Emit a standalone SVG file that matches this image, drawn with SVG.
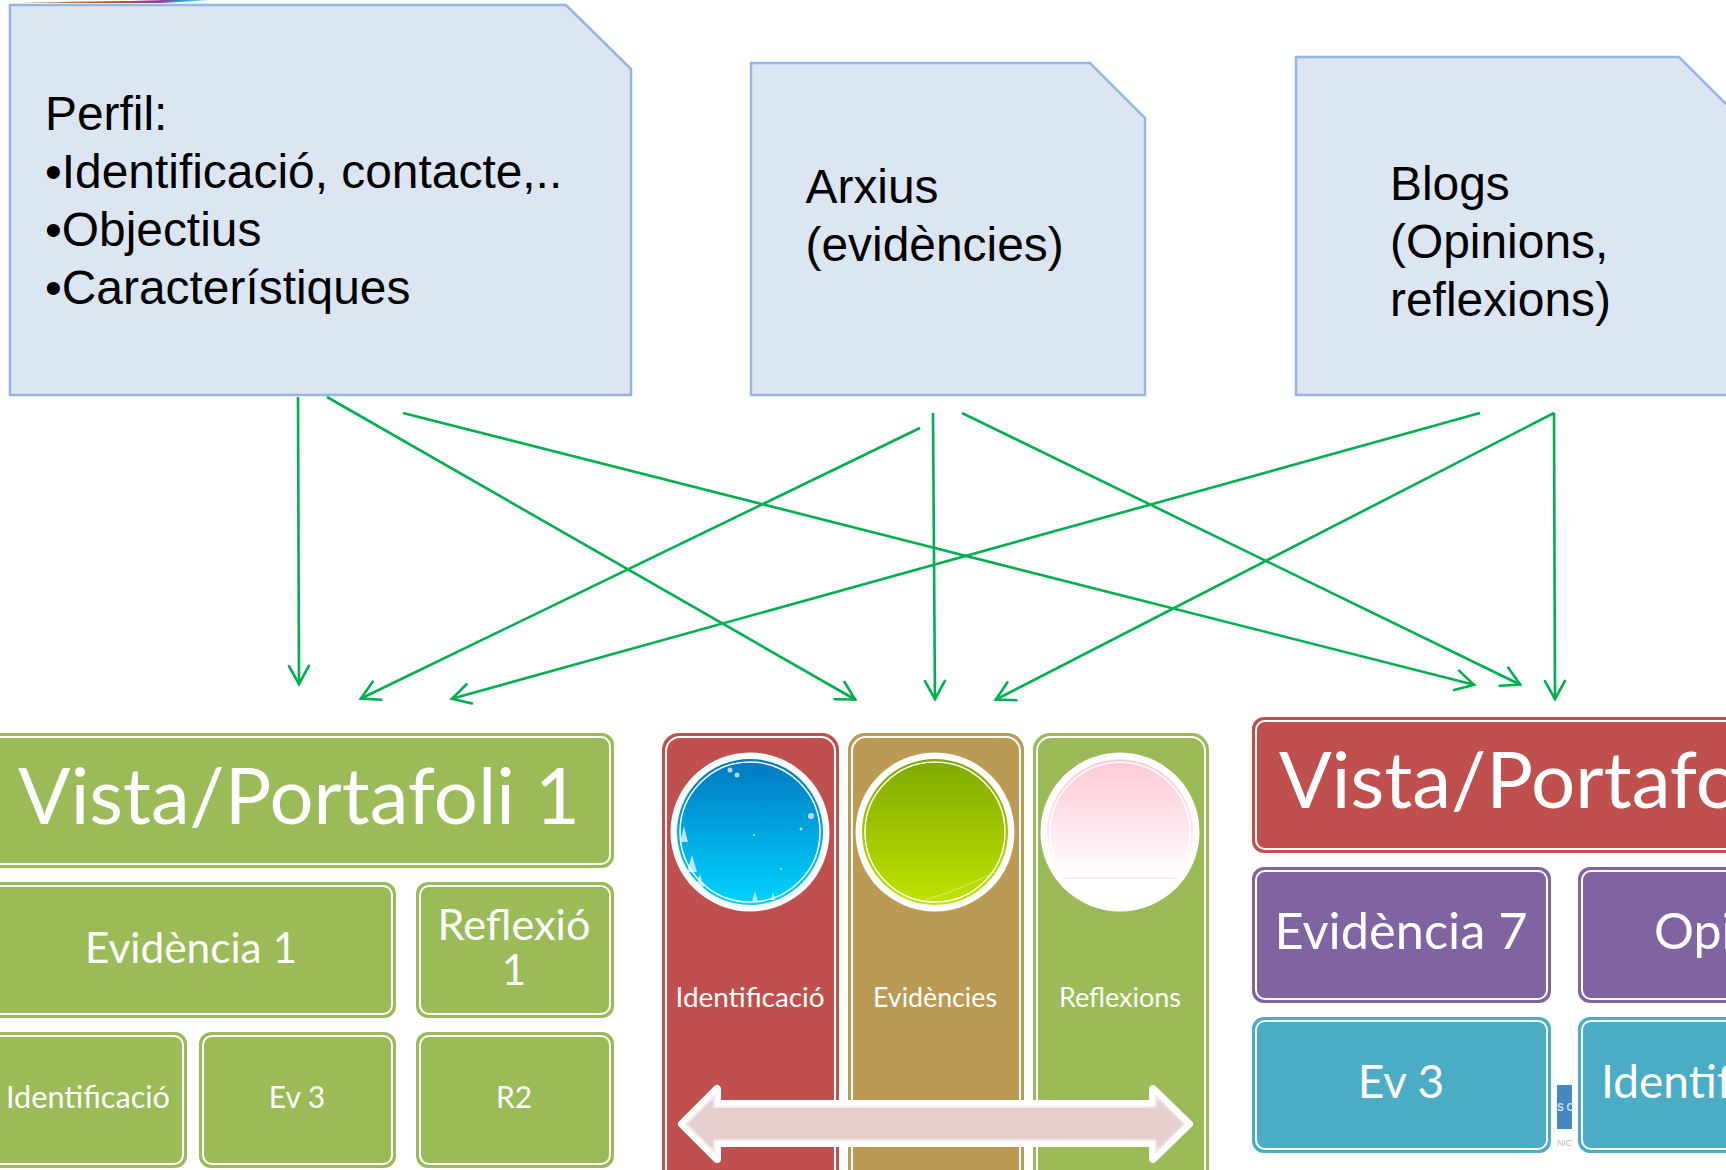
<svg xmlns="http://www.w3.org/2000/svg" width="1726" height="1170" viewBox="0 0 1726 1170">
<style>
.note{fill:#dce6f2;stroke:#95b5e3;stroke-width:2.5}
.nt{font-family:"Liberation Sans",Arial,sans-serif;font-size:47.9px;fill:#000}
.t{font-family:"Lato","Open Sans",sans-serif;fill:#fff;text-anchor:middle}
.l{text-anchor:start}
.in{fill:none;stroke:#fff;stroke-width:2}
.g{fill:#9bbb59;stroke:#9bbb59}.r{fill:#c0504d;stroke:#c0504d}.o{fill:#bb9a53;stroke:#bb9a53}.p{fill:#8064a2;stroke:#8064a2}.c{fill:#4bacc6;stroke:#4bacc6}
.b{stroke-width:2}
.con{fill:none;stroke:#00b050;stroke-width:2.6;marker-end:url(#a)}
.sn{fill:#fff;opacity:.7}
</style>
<defs>
<marker id="a" viewBox="0 0 24 24" refX="22" refY="12" markerWidth="24" markerHeight="24" markerUnits="userSpaceOnUse" orient="auto"><path d="M3 2L21 12L3 22" fill="none" stroke="#00b050" stroke-width="2.6" stroke-linecap="round"/></marker>
<linearGradient id="s" x1="0" x2="1" y1="0" y2="0"><stop offset="0" stop-color="#e08a30"/><stop offset=".5" stop-color="#c05020"/><stop offset=".75" stop-color="#9040a0"/><stop offset=".88" stop-color="#20b0d0"/><stop offset="1" stop-color="#a0e0f0"/></linearGradient>
<linearGradient id="g1" x1="0" x2="0" y1="0" y2="1"><stop offset="0" stop-color="#0078c0"/><stop offset="1" stop-color="#00d4ff"/></linearGradient>
<linearGradient id="g2" x1="0" x2="0" y1="0" y2="1"><stop offset="0" stop-color="#7fa800"/><stop offset="1" stop-color="#c0e400"/></linearGradient>
<linearGradient id="g3" x1="0" x2="0" y1="0" y2="1"><stop offset="0" stop-color="#ffc8d6"/><stop offset="1" stop-color="#fff"/></linearGradient>
</defs>
<rect width="1726" height="1170" fill="#fff"/>
<path d="M17 3Q100 1 130 1L165 0L210 0Q180 2 160 3Z" fill="url(#s)"/>

<g id="note-perfil"><path class="note" d="M10 5H566L631 69V395H10Z"/>
<text class="nt" x="45" y="130">Perfil:</text><text class="nt" x="45" y="187.500">•Identificació, contacte,..</text><text class="nt" x="45" y="245.500">•Objectius</text><text class="nt" x="45" y="303.500">•Característiques</text></g>
<g id="note-arxius"><path class="note" d="M751 63H1090L1145 118V395H751Z"/>
<text class="nt" x="805.500" y="203">Arxius</text><text class="nt" x="805.500" y="261">(evidències)</text></g>
<g id="note-blogs"><path class="note" d="M1296 57H1679L1740 118V395H1296Z"/>
<text class="nt" x="1390" y="200">Blogs</text><text class="nt" x="1390" y="258">(Opinions,</text><text class="nt" x="1390" y="316">reflexions)</text></g>

<g id="connectors">
<path class="con" d="M298 397L299 685"/>
<path class="con" d="M327 397L856 700"/>
<path class="con" d="M403 413L1475 685"/>
<path class="con" d="M920 428L360 699"/>
<path class="con" d="M933 413L935 700"/>
<path class="con" d="M962 413L1521 685"/>
<path class="con" d="M1480 413L451 699"/>
<path class="con" d="M1554 413L995 700"/>
<path class="con" d="M1554 413L1555 700"/>
</g>

<g id="vista-1"><rect class="g b" x="-20" y="734" width="633" height="133" rx="11"/><rect class="in" x="-17" y="737" width="627" height="127" rx="9"/>
<text class="t" x="299" y="824" font-size="78" textLength="562" lengthAdjust="spacingAndGlyphs">Vista/Portafoli 1</text></g>
<g id="evidencia-1"><rect class="g b" x="-20" y="883" width="415" height="134" rx="11"/><rect class="in" x="-17" y="886" width="409" height="128" rx="9"/>
<text class="t" x="191" y="963" font-size="42" textLength="212" lengthAdjust="spacingAndGlyphs">Evidència 1</text></g>
<g id="reflexio-1"><rect class="g b" x="417" y="883" width="196" height="134" rx="11"/><rect class="in" x="420" y="886" width="190" height="128" rx="9"/>
<text class="t" x="514" y="940" font-size="42" textLength="153" lengthAdjust="spacingAndGlyphs">Reflexió</text><text class="t" x="514" y="985" font-size="42">1</text></g>
<g id="identificacio-1"><rect class="g b" x="-20" y="1033" width="206" height="134" rx="11"/><rect class="in" x="-17" y="1036" width="200" height="128" rx="9"/>
<text class="t" x="88" y="1108" font-size="30" textLength="164" lengthAdjust="spacingAndGlyphs">Identificació</text></g>
<g id="ev3-1"><rect class="g b" x="200" y="1033" width="195" height="134" rx="11"/><rect class="in" x="203" y="1036" width="189" height="128" rx="9"/>
<text class="t" x="297" y="1108" font-size="30">Ev 3</text></g>
<g id="r2"><rect class="g b" x="417" y="1033" width="196" height="134" rx="11"/><rect class="in" x="420" y="1036" width="190" height="128" rx="9"/>
<text class="t" x="514" y="1108" font-size="30">R2</text></g>

<g id="col-identificacio"><rect class="r b" x="663" y="734" width="175" height="460" rx="16"/><rect class="in" x="666" y="737" width="169" height="454" rx="14"/>
<circle cx="750" cy="832" r="79.500" fill="#fff"/><circle cx="750" cy="832" r="73" fill="url(#g1)"/><circle cx="750" cy="832" r="70" fill="none" stroke="#fff" stroke-width="1.500"/>
<circle class="sn" cx="737" cy="775" r="2.500"/><circle class="sn" cx="730" cy="770" r="2.500"/><circle class="sn" cx="811" cy="816" r="3"/><circle class="sn" cx="801" cy="829" r="1.500"/><circle class="sn" cx="754" cy="835" r="1"/><circle class="sn" cx="781" cy="869" r="1"/>
<path class="sn" d="M684 826l-4 16h8zM692 855l-5 17h10zM700 874l-4 13h8zM755 891l-3 11h6zM773 892l-2 8h4z"/>
<text class="t" x="750" y="1007" font-size="26" textLength="149" lengthAdjust="spacingAndGlyphs">Identificació</text></g>
<g id="col-evidencies"><rect class="o b" x="849" y="734" width="174" height="460" rx="16"/><rect class="in" x="852" y="737" width="168" height="454" rx="14"/>
<circle cx="935" cy="832" r="79.500" fill="#fff"/><circle cx="935" cy="832" r="73" fill="url(#g2)"/><circle cx="935" cy="832" r="70" fill="none" stroke="#fff" stroke-width="1.500"/>
<path d="M925 900Q960 890 995 872" fill="none" stroke="#fff" stroke-width="1" opacity=".45"/>
<text class="t" x="935" y="1007" font-size="26" textLength="124" lengthAdjust="spacingAndGlyphs">Evidències</text></g>
<g id="col-reflexions"><rect class="g b" x="1034" y="734" width="174" height="460" rx="16"/><rect class="in" x="1037" y="737" width="168" height="454" rx="14"/>
<circle cx="1120" cy="832" r="79.500" fill="#fff"/><path d="M1063 878A73 73 0 1 1 1177 878Z" fill="url(#g3)"/><path d="M1067 878A70 70 0 1 1 1173 878" fill="none" stroke="#fff" stroke-width="1.500"/><path d="M1063 878H1177" stroke="#ffe4ea" stroke-width="1.500"/>
<text class="t" x="1120" y="1007" font-size="26" textLength="122" lengthAdjust="spacingAndGlyphs">Reflexions</text></g>

<g id="double-arrow">
<path d="M682 1124L717 1089V1104H1153V1089L1189 1124L1153 1159V1143H717V1159Z" fill="#e6cfcf" stroke="#fff" stroke-width="8" stroke-linejoin="round"/>
<path d="M686 1124L714 1096V1107H1156V1096L1184 1124L1156 1152V1140H714V1152Z" fill="none" stroke="#f2e4e4" stroke-width="1.500"/>
</g>

<g id="logo"><rect x="1557" y="1085" width="15" height="44" fill="#4389c0"/><text x="1557" y="1111" font-family="Liberation Sans,sans-serif" font-size="10" font-weight="700" fill="#cfe2f0">S C</text><text x="1557" y="1146" font-family="Liberation Sans,sans-serif" font-size="9" fill="#a9c5d4" textLength="15" lengthAdjust="spacingAndGlyphs">NIC</text></g>

<g id="vista-2"><rect class="r b" x="1253" y="718" width="500" height="134" rx="11"/><rect class="in" x="1256" y="721" width="494" height="128" rx="9"/>
<text class="t l" x="1279" y="808" font-size="78">Vista/Portafo</text></g>
<g id="evidencia-7"><rect class="p b" x="1253" y="868" width="297" height="134" rx="11"/><rect class="in" x="1256" y="871" width="291" height="128" rx="9"/>
<text class="t" x="1401" y="949" font-size="50" textLength="253" lengthAdjust="spacingAndGlyphs">Evidència 7</text></g>
<g id="opinio"><rect class="p b" x="1579" y="868" width="200" height="134" rx="11"/><rect class="in" x="1582" y="871" width="194" height="128" rx="9"/>
<text class="t l" x="1654" y="949" font-size="50">Opi</text></g>
<g id="ev3-2"><rect class="c b" x="1253" y="1018" width="297" height="134" rx="11"/><rect class="in" x="1256" y="1021" width="291" height="128" rx="9"/>
<text class="t" x="1401" y="1098" font-size="46">Ev 3</text></g>
<g id="identif-2"><rect class="c b" x="1579" y="1018" width="200" height="134" rx="11"/><rect class="in" x="1582" y="1021" width="194" height="128" rx="9"/>
<text class="t l" x="1601" y="1098" font-size="46">Identif</text></g>
</svg>
